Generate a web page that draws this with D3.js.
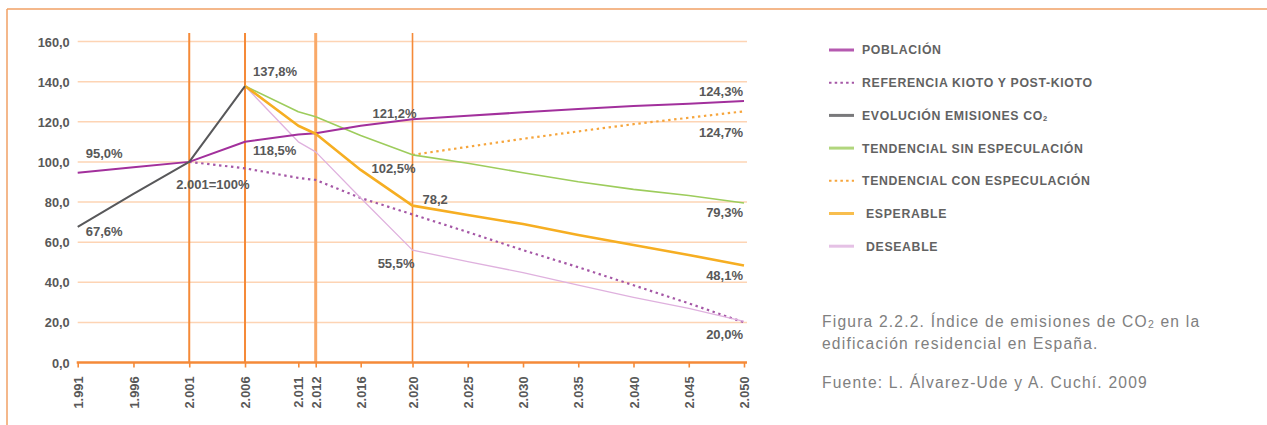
<!DOCTYPE html>
<html>
<head>
<meta charset="utf-8">
<script src="https://cdn.jsdelivr.net/npm/d3@7"></script>
<style>
  body { margin: 0; background: #fff; }
  svg { display: block; }
  .tick text { font-family: "Liberation Sans", Arial, sans-serif; font-weight: bold; font-size: 12.8px; fill: #585858; }
  .lbl { font-family: "Liberation Sans", Arial, sans-serif; font-weight: bold; font-size: 13px; fill: #585858; }
  .leg { font-family: "Liberation Sans", Arial, sans-serif; font-weight: bold; font-size: 12.3px; fill: #626262; letter-spacing: 0.65px; }
  .cap { font-family: "Liberation Sans", Arial, sans-serif; font-size: 15.6px; fill: #808080; letter-spacing: 1.2px; }
</style>
</head>
<body>
<div id="chart"></div>
<script>
// ---- data ----
var years = [1991, 1996, 2001, 2006, 2011, 2012, 2016, 2020, 2025, 2030, 2035, 2040, 2045, 2050];
var yearLabels = ["1.991", "1.996", "2.001", "2.006", "2.011", "2.012", "2.016", "2.020", "2.025", "2.030", "2.035", "2.040", "2.045", "2.050"];
var yTicks = [0, 20, 40, 60, 80, 100, 120, 140, 160];
var yTickLabels = ["0,0", "20,0", "40,0", "60,0", "80,0", "100,0", "120,0", "140,0", "160,0"];
var markerYears = [2001, 2006, 2012, 2020];

var poblacion   = [94.6, 97.3, 100, 110, 113.6, 114.3, 118, 121.3, 123, 124.7, 126.3, 127.8, 129, 130.3];
var referencia  = [null, null, 100, 96.8, 92, 91, 82, 73.8, 65, 56, 47.5, 38.5, 29.5, 20];
var emisiones   = [67.6, 84, 100, 137.8, null, null, null, null, null, null, null, null, null, null];
var sinEspec    = [null, null, null, 137.8, 125, 122.5, 113.2, 103.5, 99.3, 94.6, 90.1, 86.3, 83.2, 79.5];
var conEspec    = [null, null, null, null, null, null, null, 103.5, 107.5, 111.5, 115.2, 118.8, 122, 125.2];
var esperable   = [null, null, null, 137.8, 118, 114, 96, 78.2, 73.5, 69, 63.6, 58.6, 53.6, 48.3];
var deseable    = [null, null, null, 137.8, 110, 105, 82, 56, 50.3, 44.8, 38.6, 32.5, 27, 20.5];

var seriesNames = ["POBLACIÓN", "REFERENCIA KIOTO Y POST-KIOTO", "EVOLUCIÓN EMISIONES CO", "TENDENCIAL SIN ESPECULACIÓN", "TENDENCIAL CON ESPECULACIÓN", "ESPERABLE", "DESEABLE"];
var seriesValues = [poblacion, referencia, emisiones, sinEspec, conEspec, esperable, deseable];

var labelTexts  = ["95,0%", "67,6%", "2.001=100%", "137,8%", "118,5%", "121,2%", "102,5%", "55,5%", "78,2", "124,3%", "124,7%", "79,3%", "48,1%", "20,0%"];
var labelYears  = [1991, 1991, 2001, 2006, 2006, 2020, 2020, 2020, 2020, 2050, 2050, 2050, 2050, 2050];
var labelValues = [94.6, 67.6, 100, 137.8, 110, 121.3, 103.5, 56, 78.2, 130.3, 125.2, 79.5, 48.3, 20];

var captionLines = ["Figura 2.2.2. Índice de emisiones de CO", "edificación residencial en España.", "Fuente: L. Álvarez-Ude y A. Cuchí. 2009"];

// ---- styles / layout ----
var styles = [
  { color: "#a2309c", width: 2, dash: null },
  { color: "#a557a6", width: 2.2, dash: "2.4,3.6" },
  { color: "#58585a", width: 2, dash: null },
  { color: "#9dcc5c", width: 1.6, dash: null },
  { color: "#f6a53c", width: 2.2, dash: "2.4,3.6" },
  { color: "#f6ae22", width: 2.6, dash: null },
  { color: "#dfb1de", width: 1.3, dash: null }
];
// label offsets: [anchor, dx, dy]
var labelPlace = [
  ["start", 8, -14.7], ["start", 8, 9], ["start", -13, 27], ["start", 8, -10], ["start", 8, 13],
  ["end", 4, -1], ["end", 3, 18], ["end", 2, 18], ["start", 10, -2],
  ["end", -1, -5.5], ["end", -1, 26], ["end", -1, 14], ["end", -1, 14], ["end", -1, 17]
];

var width = 1267, height = 425;
var x0 = 77.7, plotW = 666.3;
var yTop = 41.5, yBottom = 362.5;

var svg = d3.select("#chart").append("svg")
  .attr("width", width)
  .attr("height", height);

// frame
svg.append("line").attr("x1", 7).attr("x2", width).attr("y1", 9).attr("y2", 9)
  .attr("stroke", "#f0a064").attr("stroke-width", 1.5);
svg.append("line").attr("x1", 7).attr("x2", 7).attr("y1", 9).attr("y2", height)
  .attr("stroke", "#f0a064").attr("stroke-width", 1.5);

// the category axis is not evenly spaced in the original
var x = d3.scaleLinear()
  .domain([1991, 2006, 2011, 2012, 2016, 2020, 2050])
  .range([0, 0.2511, 0.3311, 0.3572, 0.4247, 0.5025, 1].map(f => x0 + f * plotW));

var y = d3.scaleLinear()
  .domain([0, 160])
  .range([yBottom, yTop]);

// horizontal grid
svg.append("g").selectAll("line")
  .data(yTicks.filter(d => d > 0))
  .enter().append("line")
  .attr("x1", x0).attr("x2", x0 + plotW + 3)
  .attr("y1", d => y(d)).attr("y2", d => y(d))
  .attr("stroke", "#fdd4b4").attr("stroke-width", 1.5);

// vertical reference lines
svg.append("g").selectAll("line")
  .data(markerYears)
  .enter().append("line")
  .attr("x1", d => x(d)).attr("x2", d => x(d))
  .attr("y1", 33).attr("y2", yBottom)
  .attr("stroke", d => d === 2012 ? "#f9a968" : "#f58a38")
  .attr("stroke-width", d => d === 2012 ? 3 : (d === 2020 ? 1.6 : 2));

// y axis
var leftAxis = d3.axisLeft(y)
  .tickValues(yTicks)
  .tickSize(0)
  .tickPadding(8)
  .tickFormat((d, i) => yTickLabels[i]);
var gy = svg.append("g")
  .attr("transform", `translate(${x0}, 0)`)
  .call(leftAxis);
gy.select(".domain").remove();
gy.selectAll(".tick text").attr("dy", "0.36em");

// x axis
var bottomAxis = d3.axisBottom(x)
  .tickValues(years)
  .tickSize(5)
  .tickFormat((d, i) => yearLabels[i]);
var gx = svg.append("g")
  .attr("transform", `translate(0, ${yBottom})`)
  .call(bottomAxis);
gx.select(".domain").remove();
gx.selectAll(".tick line").attr("stroke", "#f58a38").attr("stroke-width", 1.6);
gx.selectAll(".tick text")
  .attr("transform", "rotate(-90)")
  .attr("text-anchor", "end")
  .attr("x", -14)
  .attr("y", 0)
  .attr("dy", "0.36em");
svg.append("line")
  .attr("x1", x0 - 1).attr("x2", x0 + plotW + 3)
  .attr("y1", yBottom).attr("y2", yBottom)
  .attr("stroke", "#f58a38").attr("stroke-width", 2.5);

// series lines
var line = d3.line()
  .defined(d => d.v !== null)
  .x(d => x(d.year))
  .y(d => y(d.v));

var drawOrder = [1, 4, 6, 3, 0, 5, 2];
drawOrder.forEach(function(s) {
  var pts = years.map((yr, i) => ({ year: yr, v: seriesValues[s][i] }));
  svg.append("path")
    .datum(pts)
    .attr("fill", "none")
    .attr("stroke", styles[s].color)
    .attr("stroke-width", styles[s].width)
    .attr("stroke-dasharray", styles[s].dash)
    .attr("stroke-linejoin", "round")
    .attr("d", line);
});

// data labels
svg.append("g").selectAll("text")
  .data(labelTexts)
  .enter().append("text")
  .attr("class", "lbl")
  .attr("x", (d, i) => x(labelYears[i]) + labelPlace[i][1])
  .attr("y", (d, i) => y(labelValues[i]) + labelPlace[i][2])
  .attr("text-anchor", (d, i) => labelPlace[i][0])
  .text(d => d);

// legend
var legend = svg.append("g").attr("transform", "translate(829, 50)");
seriesNames.forEach(function(name, i) {
  var row = legend.append("g").attr("transform", `translate(0, ${i * 32.7})`);
  row.append("line")
    .attr("x1", 0).attr("x2", 25).attr("y1", 0).attr("y2", 0)
    .attr("stroke", styles[i].color)
    .attr("stroke-width", styles[i].dash ? 2 : 3)
    .attr("stroke-opacity", styles[i].dash ? 1 : 0.8)
    .attr("stroke-dasharray", styles[i].dash ? "2.5,3.2" : null);
  var t = row.append("text")
    .attr("class", "leg")
    .attr("x", i >= 5 ? 37 : 33)
    .attr("y", 4.4)
    .text(name);
  if (i === 2) {
    t.append("tspan").attr("font-size", "7.5px").attr("dy", 1).text("2");
  }
});

// caption
var cap = svg.append("g").attr("transform", "translate(822, 0)");
var c1 = cap.append("text").attr("class", "cap").attr("y", 327).text(captionLines[0]);
c1.append("tspan").attr("font-size", "10.5px").attr("dy", 1).text("2");
c1.append("tspan").attr("dy", -1).text(" en la");
cap.append("text").attr("class", "cap").attr("y", 349).text(captionLines[1]);
cap.append("text").attr("class", "cap").attr("y", 388).text(captionLines[2]);
</script>
</body>
</html>
